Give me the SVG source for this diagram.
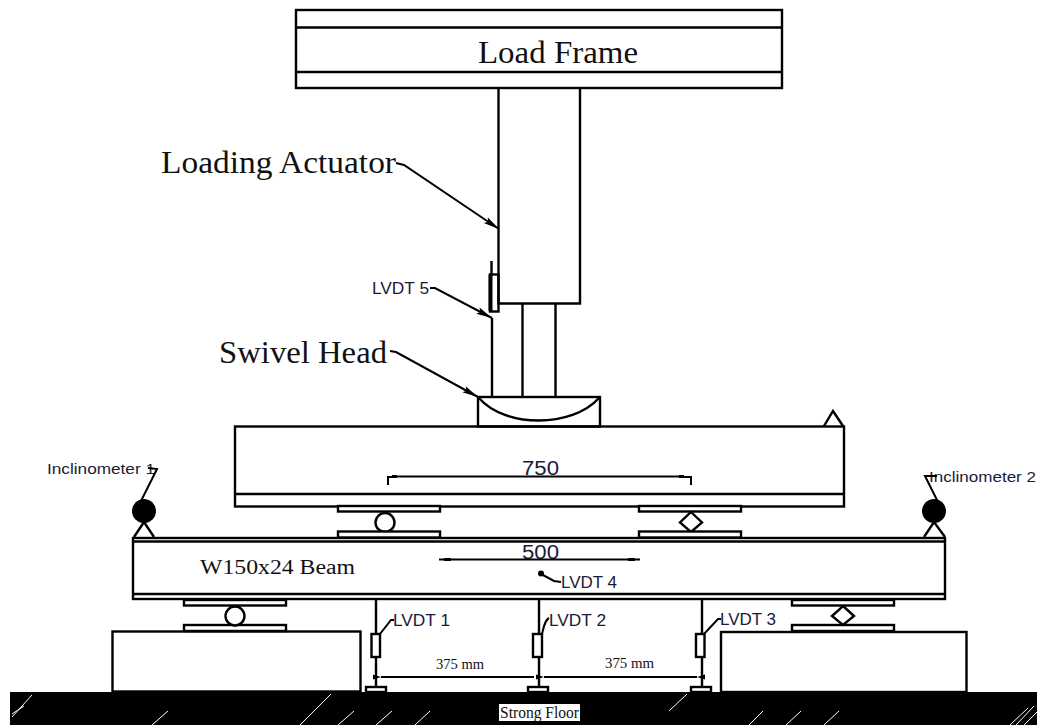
<svg xmlns="http://www.w3.org/2000/svg" width="1037" height="725" viewBox="0 0 1037 725">
<style>
.s{fill:none;stroke:#000;stroke-width:2.400}
.w{fill:#fff;stroke:#000;stroke-width:2.400}
.t{fill:none;stroke:#000;stroke-width:2}
.h{stroke:#fff;stroke-width:1;fill:none}
.serif{font-family:"Liberation Serif",serif;fill:#111}
.sans{font-family:"Liberation Sans",sans-serif;fill:#1a1a3a}
</style>
<defs>
<marker id="a" markerWidth="18" markerHeight="10" refX="16" refY="5" orient="auto" markerUnits="userSpaceOnUse"><path d="M0 1.500L16 5L0 8.500L3 5Z" fill="#000"/></marker>
<marker id="d" markerWidth="10" markerHeight="8" refX="0" refY="4" orient="auto-start-reverse" markerUnits="userSpaceOnUse"><path d="M0 4L8 1.500L8 6.500Z" fill="#000"/></marker>
</defs>
<rect width="1037" height="725" fill="#fff"/>
<g id="strong-floor">
<rect x="10" y="692" width="1027" height="33" fill="#000"/>
<path class="h" d="M12 717L32 695M12 714L24 706M152 725L168 711M300 725L331 694M338 725L354 711M376 725L392 711M415 725L430 711M669 711L687 694M749 725L763 711M786 725L801 711M824 725L839 711M1010 725L1028 708M1016 725L1034 706M1024 725L1037 712"/>
<rect x="499" y="704" width="81" height="17" fill="#fff"/>
<text class="serif" x="500" y="718" font-size="16" textLength="79" lengthAdjust="spacingAndGlyphs">Strong Floor</text>
</g>
<g id="left-support">
<rect class="s" x="112.500" y="631.500" width="248" height="60"/>
<rect class="w" x="184" y="625" width="102" height="6"/>
<circle class="w" cx="235" cy="616" r="9.500"/>
<rect class="w" x="184" y="600" width="102" height="5.500"/>
</g>
<g id="right-support">
<rect class="s" x="721" y="632" width="245.500" height="60"/>
<rect class="w" x="792" y="625" width="102" height="6"/>
<path class="w" d="M843 606L854 616L843 625L832 616Z"/>
<rect class="w" x="792" y="600" width="102" height="5.500"/>
</g>
<g id="lower-beam">
<rect class="s" x="133" y="538" width="812" height="61"/>
<path class="s" d="M133 541.500H945M133 594H945"/>
<text class="serif" x="200" y="574" font-size="20" textLength="155" lengthAdjust="spacingAndGlyphs">W150x24 Beam</text>
<text class="sans" x="522" y="559" font-size="20" textLength="37" lengthAdjust="spacingAndGlyphs">500</text>
<text class="sans" x="561" y="588" font-size="16" textLength="56" lengthAdjust="spacingAndGlyphs">LVDT 4</text>
</g>
<g id="top-beam">
<rect class="s" x="235" y="426.500" width="609" height="80"/>
<path class="s" d="M235 494H844"/>
<path class="s" d="M824 426L833 411L843 426"/>
<text class="sans" x="522" y="475" font-size="20" textLength="37" lengthAdjust="spacingAndGlyphs">750</text>
</g>
<g id="rollers">
<rect class="w" x="338" y="506" width="102" height="5.500"/>
<circle class="w" cx="385" cy="522.500" r="9.500"/>
<rect class="w" x="338" y="531.500" width="102" height="6"/>
<rect class="w" x="639" y="506" width="102" height="5.500"/>
<path class="w" d="M691 512L702 522.500L691 532L680 522.500Z"/>
<rect class="w" x="639" y="531.500" width="102" height="6"/>
</g>
<g id="load-frame">
<rect class="s" x="296" y="10" width="486" height="78"/>
<path class="s" d="M296 27.500H782M296 72H782"/>
<text class="serif" x="478" y="63" font-size="32" textLength="160" lengthAdjust="spacingAndGlyphs">Load Frame</text>
</g>
<g id="loading-actuator">
<path class="s" d="M498.500 88V303.500H580V88"/>
<text class="serif" x="161" y="173" font-size="32" textLength="235" lengthAdjust="spacingAndGlyphs">Loading Actuator</text>
</g>
<g id="swivel-head">
<path class="s" d="M492 318V397M522.500 303.500V397M555.500 303.500V397"/>
<rect class="s" x="478" y="397" width="122" height="29.500"/>
<path class="s" d="M479 398C505 428 572 428 599 398"/>
<text class="serif" x="219" y="363" font-size="32" textLength="168" lengthAdjust="spacingAndGlyphs">Swivel Head</text>
</g>
<g id="lvdt-5">
<rect class="s" x="490" y="274.500" width="8.500" height="37"/>
<path d="M490.500 274.500V311" stroke="#000" stroke-width="4"/>
<path class="s" d="M491.500 261V275"/>
<text class="sans" x="372" y="294" font-size="16" textLength="57" lengthAdjust="spacingAndGlyphs">LVDT 5</text>
</g>
<g id="inclinometer-1">
<circle cx="144" cy="511" r="12" fill="#000"/>
<path class="s" d="M134 537L144 522L154 537"/>
<text class="sans" x="47" y="474" font-size="15" textLength="108" lengthAdjust="spacingAndGlyphs">Inclinometer 1</text>
</g>
<g id="inclinometer-2">
<circle cx="934" cy="511" r="12" fill="#000"/>
<path class="s" d="M924 537L934 522L945 537"/>
<text class="sans" x="929" y="482" font-size="15" textLength="107" lengthAdjust="spacingAndGlyphs">Inclinometer 2</text>
</g>
<g id="lvdt-1">
<path class="s" d="M376 599V687"/>
<rect class="w" x="371.500" y="634" width="8.500" height="23"/>
<rect class="w" x="366" y="687" width="20" height="5"/>
<text class="sans" x="393" y="626" font-size="17" textLength="57" lengthAdjust="spacingAndGlyphs">LVDT 1</text>
</g>
<g id="lvdt-2">
<path class="s" d="M539 599V687"/>
<rect class="w" x="533" y="634" width="9" height="23"/>
<rect class="w" x="528" y="687" width="20" height="5"/>
<text class="sans" x="549" y="626" font-size="17" textLength="57" lengthAdjust="spacingAndGlyphs">LVDT 2</text>
</g>
<g id="lvdt-3">
<path class="s" d="M702 599V687"/>
<rect class="w" x="696" y="634" width="8.500" height="23"/>
<rect class="w" x="691" y="687" width="20" height="5"/>
<text class="sans" x="720" y="625" font-size="17" textLength="56" lengthAdjust="spacingAndGlyphs">LVDT 3</text>
</g>
<g id="dimension-labels">
<text class="serif" x="436" y="669" font-size="14" textLength="48" lengthAdjust="spacingAndGlyphs">375 mm</text>
<text class="serif" x="605" y="668" font-size="14" textLength="49" lengthAdjust="spacingAndGlyphs">375 mm</text>
</g>
<g id="connectors">
<path class="t" d="M396 163L404 165L499 229" marker-end="url(#a)"/>
<path class="t" d="M430 288L435 288L492 318" marker-end="url(#a)"/>
<path class="t" d="M390 351L396 352L478 397" marker-end="url(#a)"/>
<path class="t" d="M148 468L157 469L141 501"/>
<path class="t" d="M937 476L925 476L938 502"/>
<path class="t" d="M388 485V477H396M396 476.500H682M682 477H691V485"/>
<path class="t" d="M439 559.500H640"/>
<rect x="392" y="475" width="5" height="3" fill="#000"/>
<rect x="679" y="475" width="5" height="3" fill="#000"/>
<rect x="444" y="558" width="7" height="3" fill="#000"/>
<rect x="628" y="558" width="7" height="3" fill="#000"/>
<circle cx="541" cy="573.500" r="3" fill="#000"/>
<path class="t" d="M541 574L554 581L561 582"/>
<path class="t" d="M380 634L391 620H394"/>
<path class="t" d="M542 634C544 626 545 620 549 618"/>
<path class="t" d="M704 634L718 619H721"/>
<path class="t" d="M381 677H534" marker-start="url(#d)"/>
<path class="t" d="M544 677H697" marker-start="url(#d)" marker-end="url(#d)"/>
</g>
</svg>
